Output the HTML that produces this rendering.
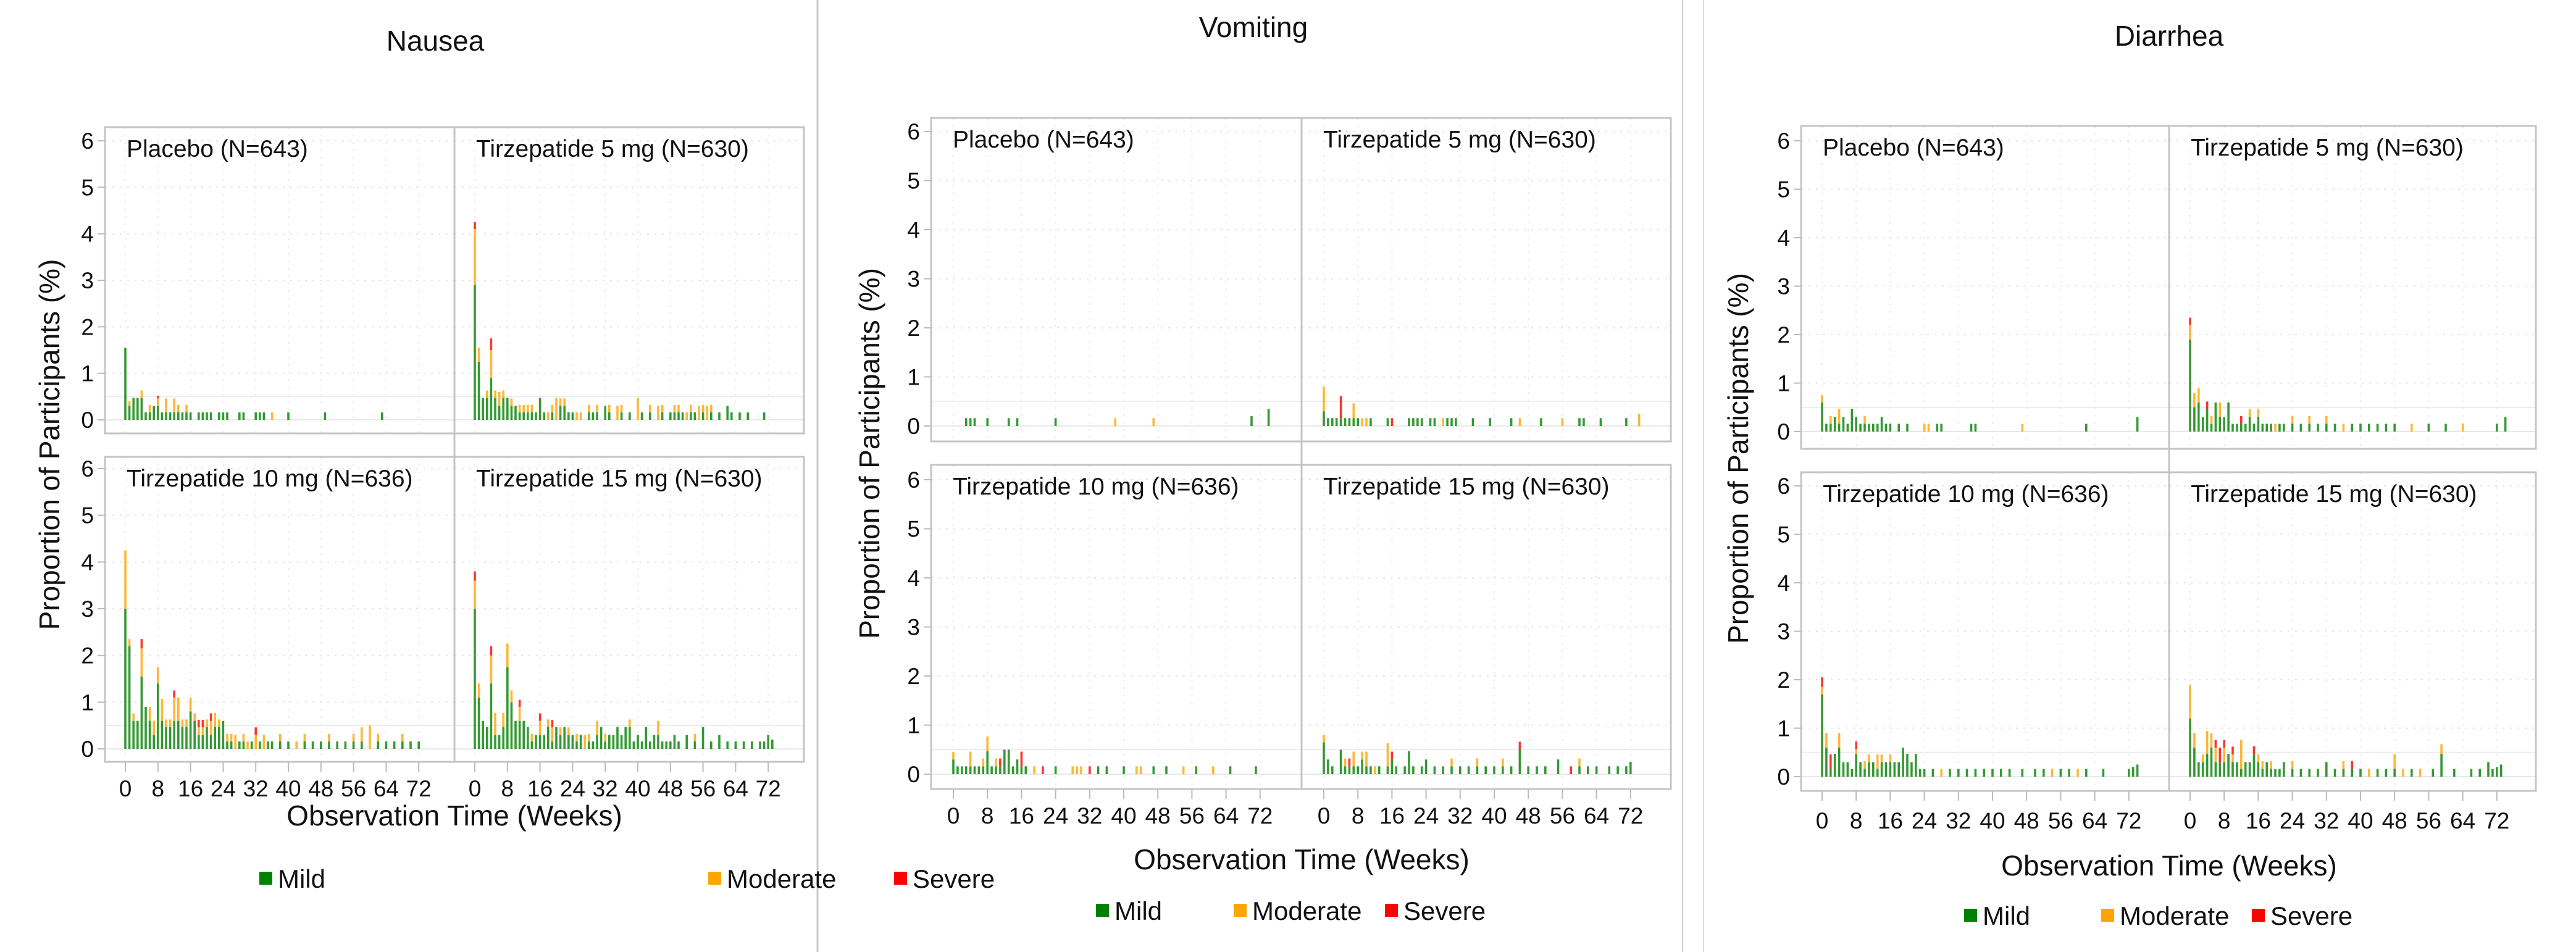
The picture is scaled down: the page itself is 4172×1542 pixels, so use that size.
<!DOCTYPE html>
<html><head><meta charset="utf-8">
<style>
html,body{margin:0;padding:0;background:#fff;}
svg{display:block;font-family:"Liberation Sans",Arial,sans-serif;}
</style></head>
<body>
<svg id="chart" width="4172" height="1542" viewBox="0 0 4172 1542" xmlns="http://www.w3.org/2000/svg">
<rect width="4172" height="1542" fill="#fff"/>
<line x1="1324" y1="0" x2="1324" y2="1542" stroke="#c8c8c8" stroke-width="3"/>
<line x1="2725" y1="0" x2="2725" y2="1542" stroke="#d0d0d0" stroke-width="2"/>
<line x1="2759" y1="0" x2="2759" y2="1542" stroke="#dcdcdc" stroke-width="2"/>
</svg>
<script>
// Shared categories / ticks
const yTickLabels = [0,1,2,3,4,5,6];
const xTickLabels = [0,8,16,24,32,40,48,56,64,72];
const severityLabels = ["Mild","Moderate","Severe"];
const armLabels = ["Placebo (N=643)","Tirzepatide 5 mg (N=630)","Tirzepatide 10 mg (N=636)","Tirzepatide 15 mg (N=630)"];

// ---------- Nausea ----------
const nauseaPlaceboWeeks = [0,1,2,3,4,5,6,7,8,9,10,11,12,13,14,15,16,18,19,20,21,23,24,25,28,29,32,33,34,36,40,49,63];
const nauseaPlaceboMild  = [1.55,0.3,0.47,0.47,0.47,0.16,0.16,0.3,0.3,0.16,0.16,0.16,0.16,0.16,0.16,0.16,0.16,0.16,0.16,0.16,0.16,0.16,0.16,0.16,0.16,0.16,0.16,0.16,0.16,0,0.16,0.16,0.16];
const nauseaPlaceboMod   = [0,0.1,0,0,0.16,0,0.16,0,0.16,0,0.3,0,0.3,0.16,0,0.16,0,0,0,0,0,0,0,0,0,0,0,0,0,0.16,0,0,0];
const nauseaPlaceboSev   = [0,0,0,0,0,0,0,0,0.05,0,0,0,0,0,0,0,0,0,0,0,0,0,0,0,0,0,0,0,0,0,0,0,0];

const nausea5Weeks = [0,1,2,3,4,5,6,7,8,9,10,11,12,13,14,15,16,17,18,19,20,21,22,23,24,25,26,28,29,30,32,33,35,36,38,40,41,43,45,46,48,49,50,51,52,53,54,55,56,57,58,60,62,63,65,67,71];
const nausea5Mild = [2.9,1.25,0.47,0.47,0.9,0.47,0.3,0.47,0.47,0.3,0.3,0.16,0.16,0.16,0.16,0.16,0.47,0.16,0,0.16,0,0.3,0.3,0.16,0.16,0,0,0.16,0.16,0.16,0.3,0.16,0,0.16,0.16,0,0.16,0.16,0,0.16,0.16,0.16,0.16,0.16,0,0.16,0.16,0,0.16,0,0.16,0.16,0.3,0.16,0.16,0.16,0.16];
const nausea5Mod  = [1.2,0.3,0,0.16,0.6,0.16,0.3,0.16,0,0.16,0,0.16,0.16,0.16,0.16,0,0,0,0.16,0.16,0.47,0.16,0.16,0,0,0.16,0.16,0.16,0,0.16,0,0.16,0.3,0.16,0,0.47,0,0.16,0.3,0.16,0,0.16,0.16,0,0.16,0.16,0,0.3,0.16,0.3,0.16,0,0,0,0,0,0];
const nausea5Sev  = [0.15,0,0,0,0.25,0,0,0,0,0,0,0,0,0,0,0,0,0,0,0,0,0,0,0,0,0,0,0,0,0,0,0,0,0,0,0,0,0,0,0,0,0,0,0,0,0,0,0,0,0,0,0,0,0,0,0,0];

const nausea10Weeks = [0,1,2,3,4,5,6,7,8,9,10,11,12,13,14,15,16,17,18,19,20,21,22,23,24,25,26,27,28,29,30,31,32,33,34,35,36,38,40,42,44,46,48,50,52,54,56,58,60,62,64,66,68,70,72];
const nausea10Mild = [3.0,2.2,0.6,0.6,1.55,0.9,0.6,0.3,1.4,0.6,0.47,0.47,0.6,0.6,0.47,0.47,0.8,0.6,0.3,0.3,0.47,0.3,0.47,0.47,0.6,0.16,0.16,0,0.16,0.16,0,0.16,0,0.16,0,0.16,0.16,0.16,0.16,0,0.16,0.16,0.16,0.16,0.16,0.16,0.16,0.16,0,0.16,0.16,0.16,0.16,0.16,0.16];
const nausea10Mod  = [1.25,0.15,0.16,0,0.6,0,0.3,0.3,0.35,0.47,0.16,0.16,0.5,0.5,0.16,0.16,0.3,0.16,0.16,0.16,0.16,0.3,0.3,0.16,0,0.16,0.16,0.3,0,0.16,0.16,0,0.3,0,0.3,0,0,0.16,0,0.16,0.16,0,0,0.16,0,0,0.16,0.3,0.5,0.16,0,0,0.16,0,0];
const nausea10Sev  = [0,0,0,0,0.2,0,0,0,0,0,0,0,0.15,0,0,0,0,0,0.16,0.16,0,0.16,0,0,0,0,0,0,0,0,0,0,0.16,0,0,0,0,0,0,0,0,0,0,0,0,0,0,0,0,0,0,0,0,0,0];

const nausea15Weeks = [0,1,2,3,4,5,6,7,8,9,10,11,12,13,14,15,16,17,18,19,20,21,22,23,24,25,26,27,28,29,30,31,32,33,34,35,36,37,38,39,40,41,42,43,44,45,46,47,48,49,50,52,54,56,58,60,62,64,66,68,70,71,72,73];
const nausea15Mild = [3.0,1.1,0.6,0.47,1.4,0.3,0.3,0.47,1.75,1.0,0.6,0.6,0.6,0.47,0.16,0.3,0.3,0.3,0.47,0.16,0.47,0.3,0.47,0.3,0.3,0.16,0.3,0,0.16,0.16,0.3,0.47,0.16,0.3,0.3,0.47,0.3,0.47,0.47,0.16,0.3,0.16,0.47,0.16,0.3,0.3,0.16,0.16,0.16,0.3,0.16,0.3,0.16,0.47,0.16,0.3,0.16,0.16,0.16,0.16,0.16,0.16,0.3,0.2];
const nausea15Mod  = [0.6,0.3,0,0,0.6,0.47,0,0.3,0.5,0.25,0,0.3,0,0,0.16,0,0.3,0,0.16,0.3,0,0.16,0,0.16,0,0.16,0,0.3,0.16,0,0.3,0,0.16,0,0,0,0,0,0.16,0,0,0,0,0,0,0.3,0,0,0,0,0,0,0.16,0,0,0,0,0,0,0,0,0,0,0];
const nausea15Sev  = [0.2,0,0,0,0.2,0,0,0,0,0,0,0.15,0,0,0,0,0.16,0,0,0.16,0,0,0,0,0,0,0,0,0,0,0,0,0,0,0,0,0,0,0,0,0,0,0,0,0,0,0,0,0,0,0,0,0,0,0,0,0,0,0,0,0,0,0,0];

// ---------- Vomiting ----------
const vomitPlaceboWeeks = [3,4,5,8,13,15,24,38,47,70,74];
const vomitPlaceboMild  = [0.16,0.16,0.16,0.16,0.16,0.16,0.16,0,0,0.2,0.35];
const vomitPlaceboMod   = [0,0,0,0,0,0,0,0.16,0.16,0,0];
const vomitPlaceboSev   = [0,0,0,0,0,0,0,0,0,0,0];

const vomit5Weeks = [0,1,2,3,4,5,6,7,8,9,10,11,15,16,20,21,22,23,25,26,28,29,30,31,35,39,44,46,51,56,60,61,65,71,74];
const vomit5Mild = [0.3,0.16,0.16,0.16,0.16,0.16,0.16,0.16,0.16,0,0,0.16,0.16,0,0.16,0.16,0.16,0.16,0.16,0.16,0,0.16,0.16,0.16,0.16,0.16,0.16,0,0.16,0,0.16,0.16,0.16,0.16,0];
const vomit5Mod  = [0.5,0,0,0,0,0,0,0.3,0,0.16,0.16,0,0,0,0,0,0,0,0,0,0.16,0,0,0,0,0,0,0.16,0,0.16,0,0,0,0,0.25];
const vomit5Sev  = [0,0,0,0,0.45,0,0,0,0,0,0,0,0,0.16,0,0,0,0,0,0,0,0,0,0,0,0,0,0,0,0,0,0,0,0,0];

const vomit10Weeks = [0,1,2,3,4,5,6,7,8,9,10,11,12,13,14,15,16,17,19,21,24,28,29,30,32,34,36,40,43,44,47,50,54,57,61,65,71];
const vomit10Mild = [0.3,0.16,0.16,0.16,0.16,0.16,0.16,0.16,0.47,0.16,0.16,0.16,0.5,0.5,0.16,0.3,0.16,0.16,0,0,0.16,0,0,0,0,0.16,0.16,0.16,0,0,0.16,0.16,0,0.16,0,0.16,0.16];
const vomit10Mod  = [0.15,0,0,0,0.3,0,0,0.16,0.3,0,0.16,0,0,0,0,0,0,0,0.16,0,0,0.16,0.16,0.16,0,0,0,0,0.16,0.16,0,0,0.16,0,0.16,0,0];
const vomit10Sev  = [0,0,0,0,0,0,0,0,0,0,0,0.16,0,0,0,0,0.3,0,0,0.16,0,0,0,0,0.16,0,0,0,0,0,0,0,0,0,0,0,0];

const vomit15Weeks = [0,1,2,4,5,6,7,8,9,10,11,12,13,15,16,17,19,20,21,23,24,26,28,30,32,34,36,38,40,42,44,46,48,50,52,55,58,60,62,64,67,69,71,72];
const vomit15Mild = [0.65,0.3,0.16,0.5,0.16,0.16,0.16,0.16,0.3,0.16,0.16,0,0.16,0.16,0.3,0.16,0.16,0.47,0.16,0.16,0.3,0.16,0.16,0.16,0.16,0.16,0.16,0.16,0.16,0.16,0.16,0.5,0.16,0.16,0.16,0.3,0,0.16,0.16,0.16,0.16,0.16,0.16,0.25];
const vomit15Mod  = [0.15,0,0,0,0.16,0,0.3,0,0.16,0.3,0,0.16,0,0.47,0,0,0,0,0,0,0,0,0,0.16,0,0,0.16,0,0,0.16,0,0,0,0,0,0,0,0.16,0,0,0,0,0,0];
const vomit15Sev  = [0,0,0,0,0,0.16,0,0,0,0,0,0,0,0,0.16,0,0,0,0,0,0,0,0,0,0,0,0,0,0,0,0,0.16,0,0,0,0,0.16,0,0,0,0,0,0,0];

// ---------- Diarrhea ----------
const diarPlaceboWeeks = [0,1,2,3,4,5,6,7,8,9,10,11,12,13,14,15,16,18,20,24,25,27,28,35,36,47,62,74];
const diarPlaceboMild  = [0.6,0.16,0.16,0.3,0.16,0.3,0.16,0.47,0.3,0.16,0.16,0.16,0.16,0.16,0.3,0.16,0.16,0.16,0.16,0,0,0.16,0.16,0.16,0.16,0,0.16,0.3];
const diarPlaceboMod   = [0.15,0,0.16,0,0.3,0,0,0,0,0,0.16,0,0,0,0,0,0,0,0,0.16,0.16,0,0,0,0,0.16,0,0];
const diarPlaceboSev   = [0,0,0,0,0,0,0,0,0,0,0,0,0,0,0,0,0,0,0,0,0,0,0,0,0,0,0,0];

const diar5Weeks = [0,1,2,3,4,5,6,7,8,9,10,11,12,13,14,15,16,17,18,19,20,21,22,24,26,28,30,32,34,36,38,40,42,44,46,48,52,56,60,64,72,74];
const diar5Mild = [1.9,0.5,0.6,0.3,0.47,0.16,0.6,0.3,0.3,0.6,0.16,0.16,0.16,0.16,0.3,0.16,0.3,0.16,0.16,0.16,0,0.16,0.16,0.16,0.16,0.16,0.16,0.16,0.16,0,0.16,0.16,0.16,0.16,0.16,0.16,0,0.16,0.16,0,0.16,0.3];
const diar5Mod  = [0.3,0.3,0.3,0,0,0.16,0,0.3,0,0,0,0,0,0,0.16,0,0.16,0,0,0,0.16,0,0,0.16,0,0.16,0,0.16,0,0.16,0,0,0,0,0,0,0.16,0,0,0.16,0,0];
const diar5Sev  = [0.15,0,0,0,0.15,0,0,0,0,0,0,0,0.16,0,0,0,0,0,0,0,0,0,0,0,0,0,0,0,0,0,0,0,0,0,0,0,0,0,0,0,0,0];

const diar10Weeks = [0,1,2,3,4,5,6,7,8,9,10,11,12,13,14,15,16,17,18,19,20,21,22,23,24,26,28,30,32,34,36,38,40,42,44,47,50,52,54,56,58,60,62,66,72,73,74];
const diar10Mild = [1.7,0.6,0.16,0.47,0.6,0.3,0.3,0.16,0.47,0.3,0.16,0.3,0.3,0.16,0.3,0.3,0.3,0.3,0.3,0.6,0.47,0.3,0.47,0.16,0.16,0.16,0,0.16,0.16,0.16,0.16,0.16,0.16,0.16,0.16,0.16,0.16,0.16,0,0.16,0.16,0,0.16,0.16,0.16,0.2,0.25];
const diar10Mod  = [0.15,0.3,0,0,0.3,0,0,0,0.1,0,0.16,0.16,0,0.3,0.16,0,0.16,0,0,0,0,0,0,0,0,0,0.16,0,0,0,0,0,0,0,0,0,0,0,0.16,0,0,0.16,0,0,0,0,0];
const diar10Sev  = [0.2,0,0.3,0,0,0,0,0,0.16,0,0,0,0,0,0,0,0,0,0,0,0,0,0,0,0,0,0,0,0,0,0,0,0,0,0,0,0,0,0,0,0,0,0,0,0,0,0];

const diar15Weeks = [0,1,2,3,4,5,6,7,8,9,10,11,12,13,14,15,16,17,18,19,20,21,22,24,26,28,30,32,34,36,38,40,42,44,46,48,50,52,54,57,59,62,66,68,70,71,72,73];
const diar15Mild = [1.2,0.6,0.3,0.3,0.47,0.6,0.3,0.3,0.3,0.47,0.3,0.3,0.16,0.3,0.3,0.47,0.3,0.16,0.3,0.16,0.16,0.16,0.3,0.16,0.16,0.16,0.16,0.3,0.16,0.16,0.16,0.16,0,0.16,0.16,0.16,0,0.16,0,0.16,0.47,0.16,0.16,0.16,0.3,0.16,0.2,0.25];
const diar15Mod  = [0.7,0.3,0,0.16,0.47,0.3,0.3,0,0.3,0,0.16,0,0.6,0,0,0,0.16,0.16,0,0.16,0,0,0,0.16,0,0,0,0,0,0.16,0,0,0.16,0,0,0.3,0.16,0,0.16,0,0.2,0,0,0,0,0,0,0];
const diar15Sev  = [0,0,0,0,0,0,0.16,0.3,0.16,0,0.16,0,0,0,0,0.16,0,0,0,0,0,0,0,0,0,0,0,0,0,0,0.16,0,0,0,0,0,0,0,0,0,0,0,0,0,0,0,0,0];

// ---------- layout (geometry only) ----------
const NS = "http://www.w3.org/2000/svg";
const svg = document.getElementById("chart");
function mk(tag, attrs, parent){
  const e = document.createElementNS(NS, tag);
  for (const k in attrs) e.setAttribute(k, attrs[k]);
  (parent||svg).appendChild(e);
  return e;
}
const COLORS = ["#008000","#ffa500","#ff0000"];

const sections = [
  { key:"nausea", title:"Nausea", titleX:705, titleY:82, L:170, M:736, R:1302, T:206, B1:702, T2:740, B:1234,
    row:[{y0:680,y6:228},{y0:1213,y6:759}], xoff:33, k:6.6, tickY:1290, xTitleY:1337, xTitleX:736,
    yTitleX:80, legendY:1423, legendX:[420,1147,1448],
    data:[[nauseaPlaceboWeeks,nauseaPlaceboMild,nauseaPlaceboMod,nauseaPlaceboSev],
          [nausea5Weeks,nausea5Mild,nausea5Mod,nausea5Sev],
          [nausea10Weeks,nausea10Mild,nausea10Mod,nausea10Sev],
          [nausea15Weeks,nausea15Mild,nausea15Mod,nausea15Sev]] },
  { key:"vomiting", title:"Vomiting", titleX:2030, titleY:60, L:1508, M:2108, R:2706, T:191, B1:715, T2:753, B:1278,
    row:[{y0:690,y6:213},{y0:1254,y6:777}], xoff:36, k:6.9, tickY:1334, xTitleY:1408, xTitleX:2108,
    yTitleX:1408, legendY:1475, legendX:[1775,1998,2243],
    data:[[vomitPlaceboWeeks,vomitPlaceboMild,vomitPlaceboMod,vomitPlaceboSev],
          [vomit5Weeks,vomit5Mild,vomit5Mod,vomit5Sev],
          [vomit10Weeks,vomit10Mild,vomit10Mod,vomit10Sev],
          [vomit15Weeks,vomit15Mild,vomit15Mod,vomit15Sev]] },
  { key:"diarrhea", title:"Diarrhea", titleX:3513, titleY:74, L:2917, M:3513, R:4107, T:204, B1:727, T2:765, B:1281,
    row:[{y0:699,y6:228},{y0:1258,y6:787}], xoff:34, k:6.9, tickY:1342, xTitleY:1418, xTitleX:3513,
    yTitleX:2815, legendY:1483, legendX:[3181,3403,3647],
    data:[[diarPlaceboWeeks,diarPlaceboMild,diarPlaceboMod,diarPlaceboSev],
          [diar5Weeks,diar5Mild,diar5Mod,diar5Sev],
          [diar10Weeks,diar10Mild,diar10Mod,diar10Sev],
          [diar15Weeks,diar15Mild,diar15Mod,diar15Sev]] }
];

sections.forEach(function(s){
  const g = mk("g", {});
  
  

  const t = mk("text", {x:s.titleX, y:s.titleY, "text-anchor":"middle", "font-size":46, fill:"#111"}, g);
  t.textContent = s.title;
  
  

  const cols = [s.L, s.M];
  const colW = s.M - s.L;
  for (let p = 0; p < 4; p++){
    const ci = p % 2, ri = Math.floor(p / 2);
    const cx = cols[ci];
    const rowTop = ri === 0 ? s.T : s.T2;
    const rowBot = ri === 0 ? s.B1 : s.B;
    const y0 = s.row[ri].y0, y6 = s.row[ri].y6;
    const ys = function(v){ return y0 - (y0 - y6) * v / 6; };
    const xs = function(w){ return cx + s.xoff + s.k * w; };
    const pg = mk("g", {}, g);
    
    
    // grid
    yTickLabels.forEach(function(v){
      const ln = mk("line", {x1:cx, x2:cx+colW, y1:ys(v), y2:ys(v), stroke:"#e4e4e4", "stroke-width":2, "stroke-dasharray":"3,9"}, pg);
      
      
    });
    xTickLabels.forEach(function(v){
      const ln = mk("line", {x1:xs(v), x2:xs(v), y1:rowTop, y2:rowBot, stroke:"#ececec", "stroke-width":2, "stroke-dasharray":"3,9"}, pg);
      
      
    });
    const half = mk("line", {x1:cx, x2:cx+colW, y1:ys(0.5), y2:ys(0.5), stroke:"#ececec", "stroke-width":2}, pg);
    
    
    const zl = mk("line", {x1:cx, x2:cx+colW, y1:ys(0), y2:ys(0), stroke:"#e8e8e8", "stroke-width":2}, pg);
    
    
    // label
    const lb = mk("text", {x:cx+35, y:rowTop+48, "font-size":39, fill:"#111"}, pg);
    lb.textContent = armLabels[p];
    
    
    // bars
    const d = s.data[p];
    const weeks = d[0];
    for (let i = 0; i < weeks.length; i++){
      let base = 0;
      for (let sv = 0; sv < 3; sv++){
        const v = d[sv+1][i];
        if (!v) continue;
        const yTop = ys(base + v), yBot = ys(base);
        const r = mk("rect", {x:xs(weeks[i]) - 1.8, y:yTop, width:3.6, height:Math.max(yBot - yTop, 1), fill:COLORS[sv], opacity:0.8}, pg);
        
        
        base += v;
      }
    }
    // y ticks (left column)
    if (ci === 0){
      yTickLabels.forEach(function(v){
        const tk = mk("line", {x1:cx-12, x2:cx, y1:ys(v), y2:ys(v), stroke:"#bbb", "stroke-width":2}, pg);
        
        
        const tl = mk("text", {x:cx-18, y:ys(v)+13, "text-anchor":"end", "font-size":37, fill:"#111"}, pg);
        tl.textContent = v;
        
        
      });
    }
    // x ticks (bottom row)
    if (ri === 1){
      xTickLabels.forEach(function(v){
        const tk = mk("line", {x1:xs(v), x2:xs(v), y1:s.B, y2:s.B+16, stroke:"#bbb", "stroke-width":2}, pg);
        
        
        const tl = mk("text", {x:xs(v), y:s.tickY, "text-anchor":"middle", "font-size":37, fill:"#111"}, pg);
        tl.textContent = v;
        
        
      });
    }
  }
  // frames
  [[s.T,s.B1],[s.T2,s.B]].forEach(function(rb){
    const fr = mk("rect", {x:s.L, y:rb[0], width:s.R-s.L, height:rb[1]-rb[0], fill:"none", stroke:"#c4c4c4", "stroke-width":3}, g);
    
    
    const dv = mk("line", {x1:s.M, x2:s.M, y1:rb[0], y2:rb[1], stroke:"#c4c4c4", "stroke-width":3}, g);
    
    
  });
  const sd = mk("line", {x1:s.M, x2:s.M, y1:s.B1, y2:s.T2, stroke:"#c4c4c4", "stroke-width":3}, g);
  
  
  // axis titles
  const yc = (s.T + s.B) / 2;
  const yt = mk("text", {x:s.yTitleX, y:yc, "text-anchor":"middle", "font-size":46, fill:"#111", transform:"rotate(-90 "+s.yTitleX+" "+yc+") translate(0 16)"}, g);
  yt.textContent = "Proportion of Participants (%)";
  
  
  const xt = mk("text", {x:s.xTitleX, y:s.xTitleY, "text-anchor":"middle", "font-size":46, fill:"#111"}, g);
  xt.textContent = "Observation Time (Weeks)";
  
  
  // legend
  severityLabels.forEach(function(lbl, i){
    const lx = s.legendX[i];
    const sq = mk("rect", {x:lx, y:s.legendY-11, width:21, height:21, fill:COLORS[i]}, g);
    
    
    const lt = mk("text", {x:lx+30, y:s.legendY+15, "font-size":42, fill:"#111"}, g);
    lt.textContent = lbl;
    
    
  });
});
</script>
</body></html>
